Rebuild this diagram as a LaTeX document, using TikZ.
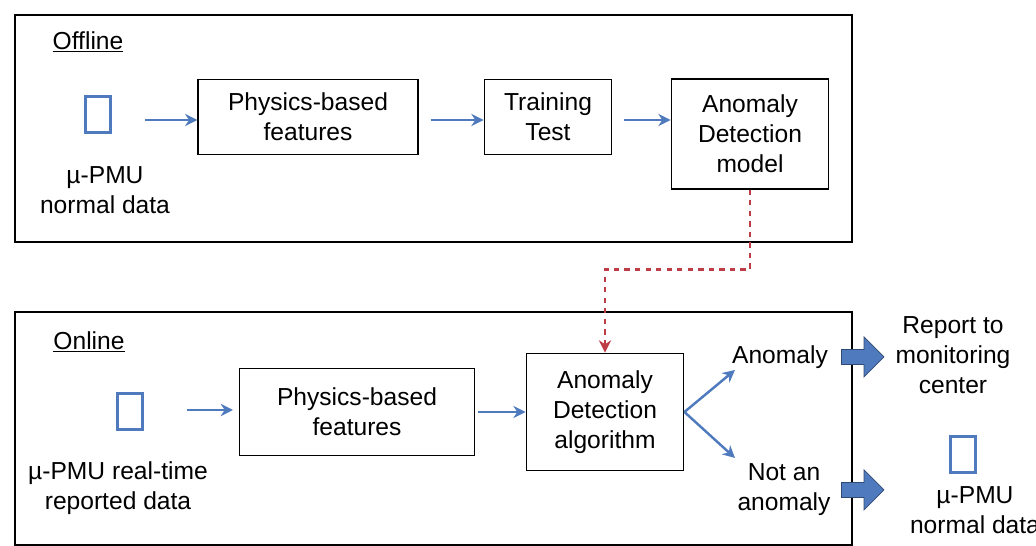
\documentclass[tikz,border=0pt]{standalone}
\usepackage{fontspec}
\setmainfont{Liberation Sans}
\usetikzlibrary{positioning, calc, arrows.meta, shapes.geometric, shapes.arrows}

\definecolor{flowblue}{RGB}{79,123,190}
\definecolor{linkred}{RGB}{190,60,70}

\tikzset{
  every node/.style={font=\fontsize{14}{17}\selectfont, align=center},
  frame/.style={draw, line width=1.6pt},
  stage/.style={draw, thick, align=center},
  flow/.style={-{Stealth[length=7pt,width=7pt]}, flowblue, line width=1.4pt},
  db/.style={cylinder, shape border rotate=90, draw=flowblue, line width=1.4pt,
    minimum width=0.5cm, minimum height=0.72cm, aspect=0.5, inner sep=0pt},
  bigarrow/.style={single arrow, draw=flowblue!60!black, fill=flowblue, minimum height=0.85cm,
    minimum width=0.8cm, single arrow head extend=2pt, inner sep=1pt}
}

\begin{document}
\begin{tikzpicture}[x=0.02cm, y=-0.02cm]
  \useasboundingbox (0,0) rectangle (1036,546);

  % offline part

  \draw[frame] (15,15) rectangle (852,242);
  \node (offline) at (88,42) {\underline{Offline}};

  \node[db] (offdb) at (98,115) {};
  \node (offdata) at (105,190) {µ-PMU\\normal data};
  \node[stage, minimum width=4.4cm, minimum height=1.5cm] (offfeat) at (308,117) {Physics-based\\features};
  \node[stage, minimum width=2.55cm, minimum height=1.5cm] (train) at (548,117) {Training\\Test};
  \node[stage, minimum width=3.15cm, minimum height=2.2cm] (model) at (750,134) {Anomaly\\Detection\\model};

  \coordinate (offa) at (145,120);
  \draw[flow] (offa) -- (offfeat.west |- offa);
  \draw[flow] (offfeat.east |- offa) ++(12,0) coordinate (offb) -- (train.west |- offb);
  \draw[flow] (train.east |- offa) ++(12,0) coordinate (offc) -- (model.west |- offc);

  % online part

  \draw[frame] (15,312) rectangle (852,545);
  \node (online) at (89,342) {\underline{Online}};

  \node[db] (ondb) at (130,412) {};
  \node (ondata) at (118,488) {µ-PMU real-time\\reported data};
  \node[stage, minimum width=4.7cm, minimum height=1.75cm] (onfeat) at (357,412) {Physics-based\\features};
  \node[stage, minimum width=3.15cm, minimum height=2.35cm] (algo) at (605,412) {Anomaly\\Detection\\algorithm};

  \coordinate (ona) at (187,410);
  \draw[flow] (ona) -- ++(46,0);
  \coordinate (onb) at (478,412);
  \draw[flow] (onb) -- (algo.west |- onb);

  \node (anom) at (780,357) {Anomaly};
  \node (notanom) at (784,490) {Not an\\anomaly};
  \draw[flow] (algo.east) -- (735,370);
  \draw[flow] (algo.east) -- (735,458);

  % link from model to algorithm
  \draw[linkred, line width=1.6pt, dashed, -{Stealth[length=7pt,width=7pt]}]
    (model.south) -- ++(0,80) -| (algo.north);

  % outputs

  \node[bigarrow] (outa) at (859,357) {};
  \node[bigarrow] (outb) at (859,490) {};
  \node (report) at (953,355) {Report to\\monitoring\\center};
  \node[db] (outdb) at (963,455) {};
  \node (normal) at (975,510) {µ-PMU\\normal data};

\end{tikzpicture}
\end{document}
